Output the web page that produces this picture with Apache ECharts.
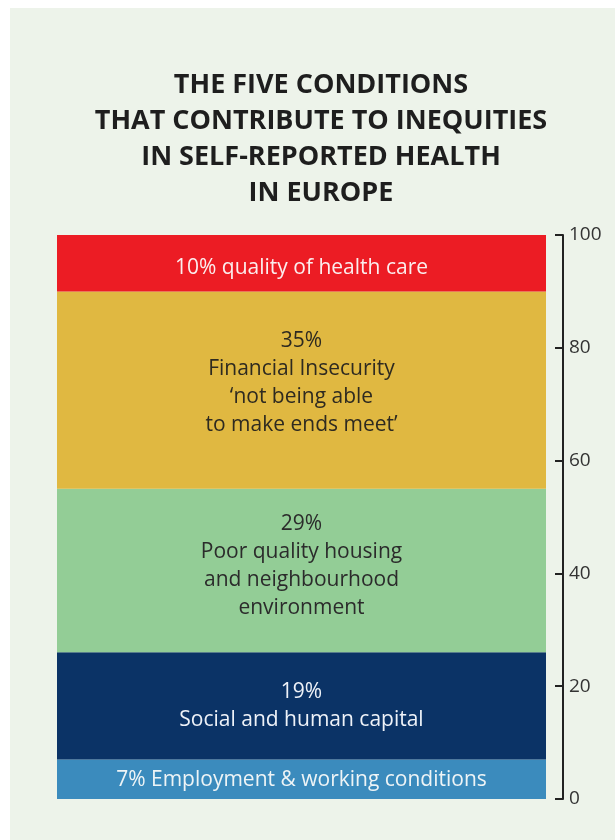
<!DOCTYPE html>
<html>
<head>
  <meta charset="UTF-8" />
  <title>Five conditions - inequities in self-reported health</title>
  <script src="https://cdn.jsdelivr.net/npm/echarts@6/dist/echarts.min.js"></script>
  <style>
    html, body { margin: 0; height: 100%; background: #ffffff; }
    #main { width: 615px; height: 840px; }
  </style>
</head>
<body>
  <div id="main"></div>
  <script>
    // bottom to top
    const segNames = ['Employment', 'Social', 'Housing', 'Financial', 'Health care'];
    const segValues = [7, 19, 29, 35, 10];
    const segColors = ['#3b8bbd', '#0b3366', '#93cd96', '#e0b841', '#ec1c24'];
    const segTextColors = ['#eef4f6', '#eef2f8', '#2b2b2b', '#2e2a20', '#fbeeee'];
    const segLabels = [
      '7% Employment & working conditions',
      '19%\nSocial and human capital',
      '29%\nPoor quality housing\nand neighbourhood\nenvironment',
      '35%\nFinancial Insecurity\n‘not being able\nto make ends meet’',
      '10% quality of health care'
    ];
    const yTicks = [0, 20, 40, 60, 80, 100];

    // small nudges so the text sits where the original has it
    const labelShift = [1, 0, -5, -7, 5];

    const chart = echarts.init(document.getElementById('main'));

    chart.setOption({
      backgroundColor: '#ffffff',
      graphic: [{
        type: 'rect',
        z: -10,
        shape: { x: 10, y: 8, width: 605, height: 832 },
        style: { fill: '#edf3ea' }
      }],
      title: {
        text: 'THE FIVE CONDITIONS\nTHAT CONTRIBUTE TO INEQUITIES\nIN SELF-REPORTED HEALTH\nIN EUROPE',
        left: 316,
        textAlign: 'center',
        top: 62,
        textStyle: {
          fontFamily: 'Open Sans',
          fontWeight: 'bold',
          fontSize: 27,
          lineHeight: 36,
          color: '#1e1e1e'
        }
      },
      grid: { left: 57, right: 69, top: 235, bottom: 41 },
      xAxis: {
        type: 'category',
        data: ['Europe'],
        show: false
      },
      yAxis: {
        type: 'value',
        position: 'right',
        offset: 17,
        min: 0,
        max: 100,
        interval: 20,
        splitLine: { show: false },
        axisLine: { show: true, lineStyle: { color: '#222', width: 2 } },
        axisTick: { show: true, inside: true, length: 8, lineStyle: { color: '#222', width: 2 } },
        axisLabel: {
          margin: 6,
          color: '#333',
          fontFamily: 'Open Sans',
          fontSize: 19,
          padding: [4, 0, 0, 0],
          formatter: v => yTicks.includes(v) ? String(v) : ''
        }
      },
      series: segValues.map((v, i) => ({
        name: segNames[i],
        type: 'bar',
        stack: 'total',
        barWidth: '100%',
        data: [v],
        itemStyle: { color: segColors[i] },
        label: {
          show: true,
          position: 'inside',
          offset: [0, labelShift[i]],
          formatter: segLabels[i],
          color: segTextColors[i],
          fontFamily: 'Open Sans',
          fontSize: 21,
          lineHeight: 28,
          align: 'center'
        }
      }))
    });
  </script>
</body>
</html>
